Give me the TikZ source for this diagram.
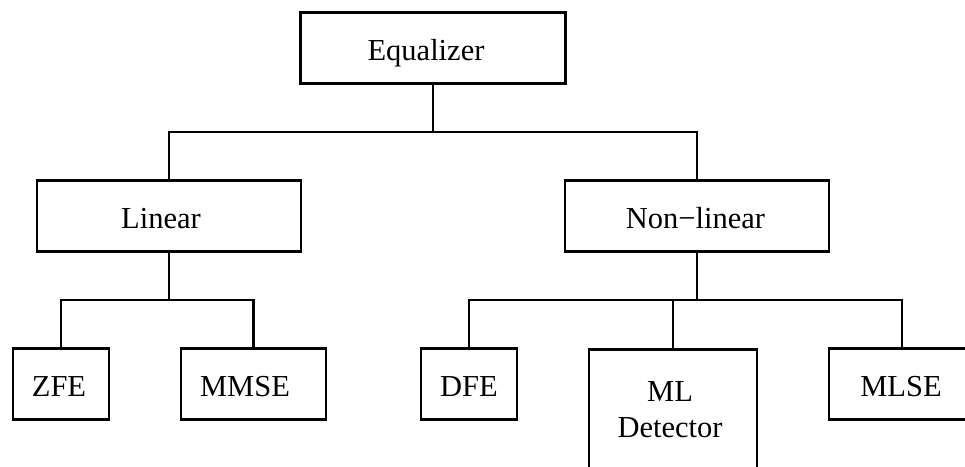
\documentclass[tikz,border=0pt]{standalone}
\usepackage{fontspec}
\setmainfont{Liberation Serif}
\begin{document}
\begin{tikzpicture}[x=1pt,y=-1pt,
  lbl/.style={font=\fontsize{30.5}{35.6}\selectfont},
  box/.style={lbl, draw, rectangle, line width=2.8pt, inner sep=0pt,
    minimum height=71pt, text height=24pt, text depth=0pt},
  wire/.style={line width=2.8pt, line join=miter}]
\useasboundingbox (0,0) rectangle (965,466);
\clip (0,0) rectangle (965,466);

% top level
\node[box, minimum width=265pt] (eq) at (433,48) {Equalizer\hspace*{14pt}};

% second level
\node[box, minimum width=264pt] (lin) at (169,216) {Linear\hspace*{16pt}};
\node[box, minimum width=264pt] (nl)  at (697,216) {Non\char"2212 linear\hspace*{3pt}};

% leaves
\node[box, minimum width=96pt]  (zfe)  at (61,384)    {ZFE\hspace*{4pt}};
\node[box, minimum width=145pt] (mmse) at (253.5,384) {MMSE\hspace*{17pt}};
\node[box, minimum width=96pt]  (dfe)  at (469,384)   {DFE};
\node[draw, rectangle, line width=2.8pt, inner sep=0pt,
      minimum width=168pt, minimum height=170pt, anchor=north] (ml) at (673,348) {};
% two-line label; the base anchor sits on the last line
\node[lbl, align=center, anchor=base] (mltext) at (670,437.3) {ML\\Detector};
\node[box, minimum width=146pt] (mlse) at (902,384)   {MLSE\hspace*{2pt}};

% bus points
\coordinate (bus1) at (433,132);
\coordinate (bus2) at (169,300);
\coordinate (bus3) at (697,300);

% connectors
\draw[wire] (eq.south) -- (bus1);
\draw[wire] (lin.north) |- (bus1) -| (nl.north);

\draw[wire] (lin.south) -- (bus2);
\draw[wire] (zfe.north) |- (bus2) -| (mmse.north);

\draw[wire] (nl.south) -- (bus3);
\draw[wire] (dfe.north) |- (bus3) -| (mlse.north);
\draw[wire] (ml.north) -- (ml.north |- bus3);
\end{tikzpicture}
\end{document}
